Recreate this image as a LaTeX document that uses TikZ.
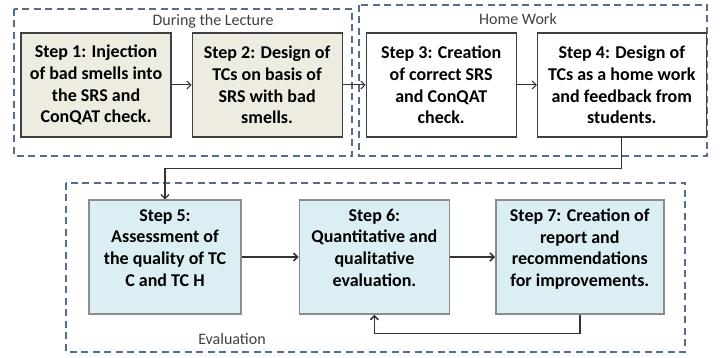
\documentclass[tikz,border=0pt]{standalone}
\usepackage{fontspec}
\setmainfont{Carlito}
\usepackage{tikz}
\usetikzlibrary{arrows.meta,positioning}
\usepackage{xcolor}
\definecolor{stepbeige}{RGB}{238,236,225}
\definecolor{stepblue}{RGB}{219,238,244}
\definecolor{groupblue}{RGB}{84,110,145}
\definecolor{labelgray}{RGB}{64,64,64}
\definecolor{bordergray}{RGB}{140,140,140}
\tikzstyle{arrow} = [line width=1.2pt,->,>={Straight Barb[length=4pt,width=8pt]},color=black!80]
\tikzstyle{lecture} = [rectangle, minimum width=150pt, minimum height=104pt, align=center, draw=black!75, fill=stepbeige, line width=1.1pt, font=\fontsize{18}{21.7}\selectfont\bfseries, inner sep=0pt]
\tikzstyle{homework} = [lecture, fill=white]
\tikzstyle{evalstep} = [lecture, minimum height=114pt, draw=bordergray, fill=stepblue, line width=1.4pt]
\tikzstyle{group} = [dash pattern=on 7pt off 4.5pt, line width=1.6pt, color=groupblue]
\tikzstyle{grouplabel} = [font=\fontsize{16}{18}\selectfont, text=labelgray, inner sep=0pt]

\begin{document}
\begin{tikzpicture}[x=1pt, y=-1pt]
\useasboundingbox (0,0) rectangle (724,358);

% Groups
\draw[group] (14,9) rectangle (352,156);
\draw[group] (359,5) rectangle (707,156);
\draw[group] (66,183) rectangle (685,352);
\node (lectlabel) [grouplabel] at (213,21) {During the Lecture};
\node (homelabel) [grouplabel] at (518,19) {Home Work};
\node (evallabel) [grouplabel] at (232,339) {Evaluation};

% During the lecture
\node (inject) [lecture] at (96,85) {Step 1: Injection\\of bad smells into\\the SRS and\\ConQAT check.};
\node (tclect) [lecture, right=20pt of inject] {Step 2: Design of\\TCs on basis of\\SRS with bad\\smells.};

% Home work
\node (correct) [homework, right=23pt of tclect] {Step 3: Creation\\of correct SRS\\and ConQAT\\check.};
\node (tchome) [homework, right=20pt of correct, minimum width=169pt] {Step 4: Design of\\TCs as a home work\\and feedback from\\students.};

% Evaluation
\node (assess) [evalstep, minimum width=152pt] at (165,257) {Step 5:\\Assessment of\\the quality of TC\\C and TC H\\[-3pt]};
\node (quant) [evalstep, right=57pt of assess] {Step 6:\\Quantitative and\\qualitative\\evaluation.\\[-3pt]};
\node (report) [evalstep, right=45pt of quant, minimum width=168pt] {Step 7: Creation of\\report and\\recommendations\\for improvements.\\[-3pt]};

% Connections
\draw[arrow, line width=1pt] (inject) -- (tclect);
\draw[arrow, line width=1pt] (tclect) -- (correct);
\draw[arrow, line width=1pt] (correct) -- (tchome);
\draw[arrow] (tchome.south) -- ++(0,31) -| (assess.north);
\draw[arrow, line width=1.6pt] (assess) -- (quant);
\draw[arrow, line width=1.6pt] (quant) -- (report);
\draw[arrow, line width=1.6pt] (report.south) -- ++(0,19) -| (quant.south);
\end{tikzpicture}
\end{document}
